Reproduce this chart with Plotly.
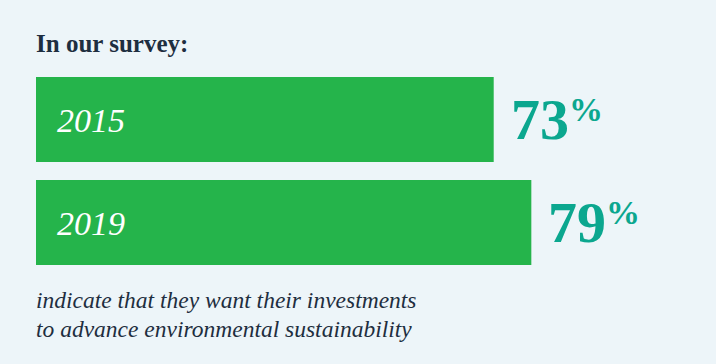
import plotly.graph_objects as go

years = ["2015", "2019"]
values = [73, 79]
title_text = "In our survey:"
footer_lines = ["indicate that they want their investments",
                "to advance environmental sustainability"]

BG = "#EDF5F9"
GREEN = "#25B44B"
TEAL = "#0BA78F"
NAVY = "#1E2E40"
SERIF = "Liberation Serif, DejaVu Serif, serif"

pos = list(range(len(years)))

fig = go.Figure()
fig.add_trace(go.Bar(
    x=values, y=pos, orientation="h",
    marker=dict(color=GREEN, line=dict(width=0)),
    hoverinfo="skip", showlegend=False,
))

annotations = []
for p, yr, v in zip(pos, years, values):
    annotations.append(dict(
        x=0, y=p, xref="x", yref="y", text=f"<i>{yr}</i>", showarrow=False,
        xanchor="left", yanchor="middle", xshift=19, yshift=-1,
        font=dict(family=SERIF, size=34, color="white"),
    ))
    annotations.append(dict(
        x=v, y=p, xref="x", yref="y",
        text=(f"<span style='font-size:58px'><b>{v}</b></span>"
              f"<sup><span style='font-size:34px'><b>%</b></span></sup>"),
        showarrow=False, xanchor="left", yanchor="middle", xshift=15, yshift=0,
        font=dict(family=SERIF, size=44, color=TEAL),
    ))

annotations.append(dict(
    x=0, y=1, xref="paper", yref="paper", text=f"<b>{title_text}</b>",
    showarrow=False, xanchor="left", yanchor="middle", yshift=25, xshift=-2,
    font=dict(family=SERIF, size=25, color=NAVY),
))
for i, line in enumerate(footer_lines):
    annotations.append(dict(
        x=0, y=0, xref="paper", yref="paper", text=f"<i>{line}</i>",
        showarrow=False, xanchor="left", yanchor="middle", yshift=-26 - 29 * i, xshift=-2,
        font=dict(family=SERIF, size=23.5, color=NAVY),
    ))

fig.update_layout(
    width=716, height=364,
    margin=dict(l=36, r=53, t=68, b=90),
    paper_bgcolor=BG, plot_bgcolor=BG,
    bargap=0.175,
    xaxis=dict(range=[0, 100], visible=False, fixedrange=True),
    yaxis=dict(range=[1.5, -0.5], visible=False, fixedrange=True),
    annotations=annotations,
)

fig.write_html("out.html", config={"displayModeBar": False})
